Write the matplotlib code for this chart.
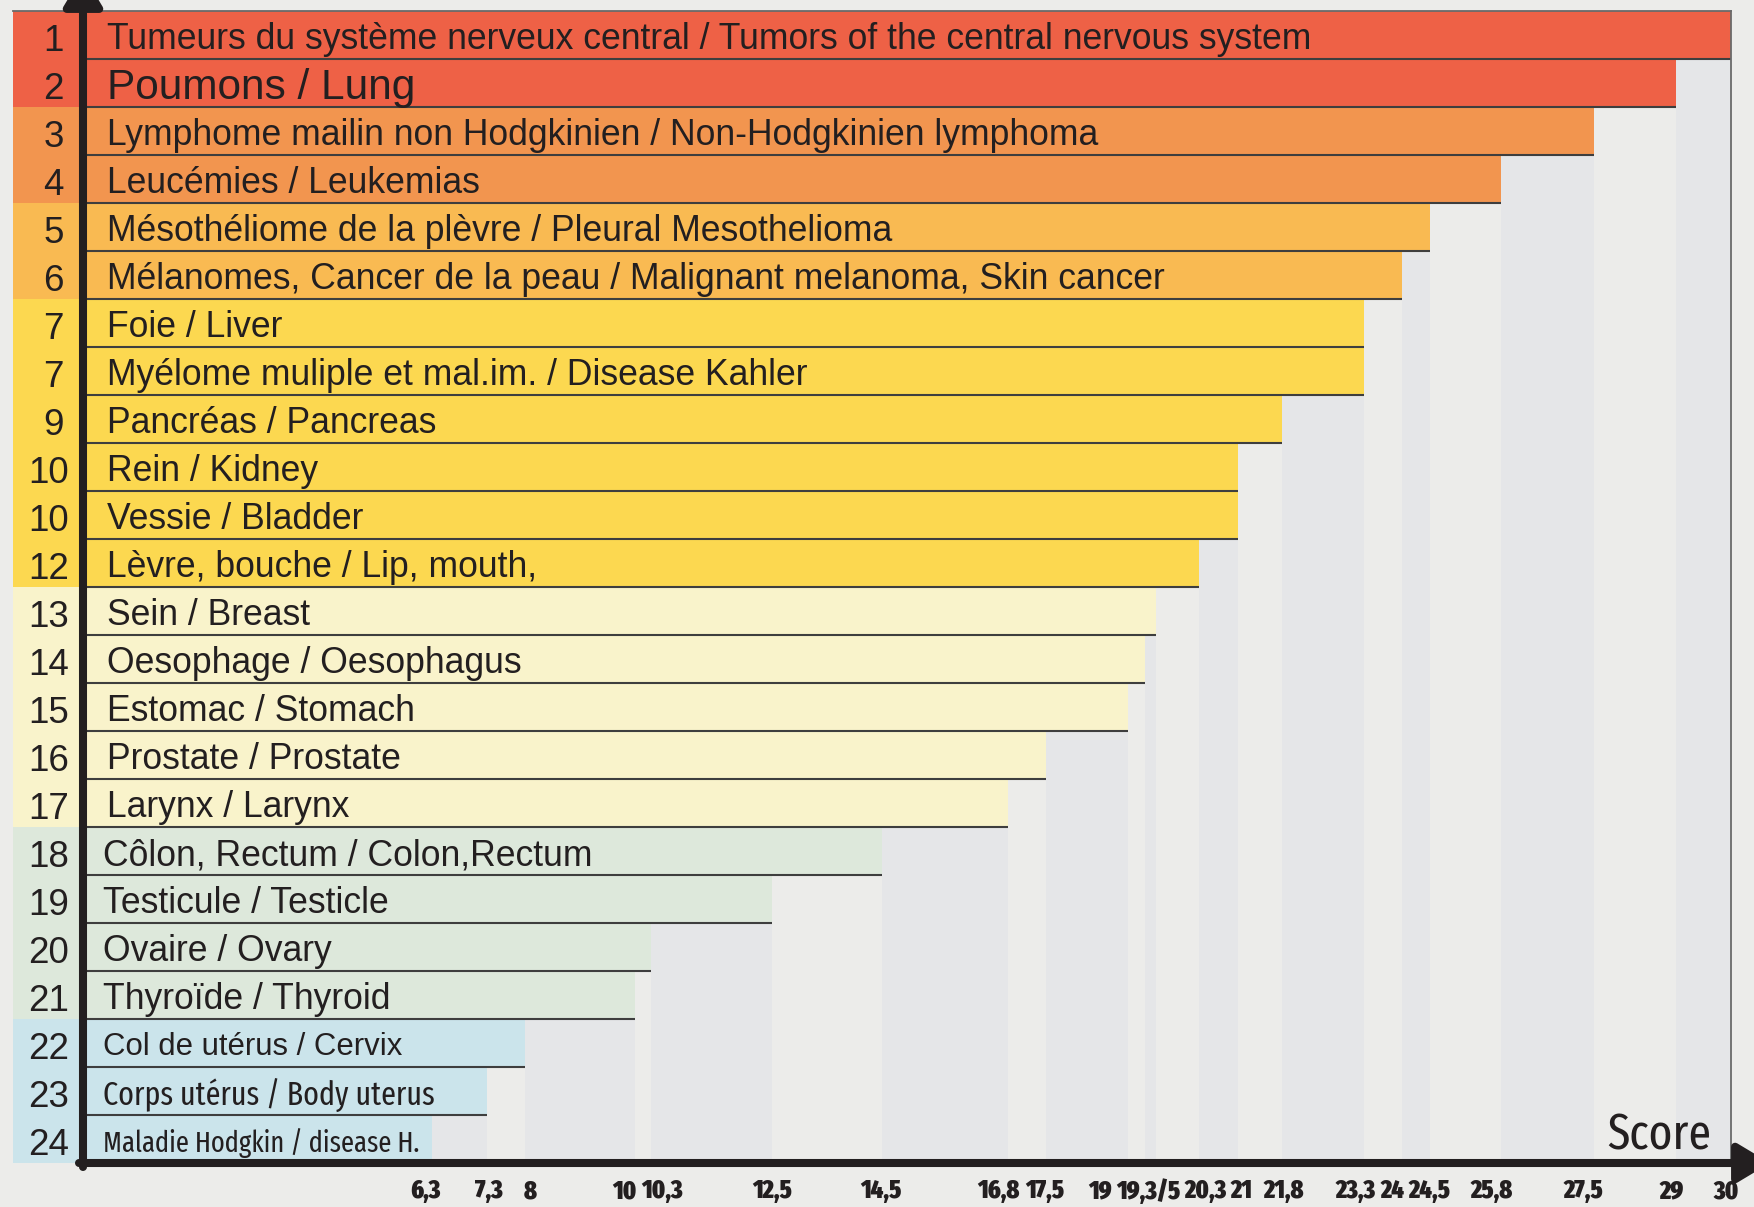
import os
import matplotlib
matplotlib.use("Agg")
import matplotlib.pyplot as plt
from matplotlib import font_manager as fm
from matplotlib.textpath import TextToPath
import matplotlib.transforms as mtransforms
import numpy as np

# ---------------- data ----------------
ranks = [1, 2, 3, 4, 5, 6, 7, 7, 9, 10, 10, 12, 13, 14, 15, 16, 17, 18, 19, 20, 21, 22, 23, 24]
labels = [
    "Tumeurs du système nerveux central / Tumors of the central nervous system",
    "Poumons / Lung",
    "Lymphome mailin non Hodgkinien / Non-Hodgkinien lymphoma",
    "Leucémies / Leukemias",
    "Mésothéliome de la plèvre / Pleural Mesothelioma",
    "Mélanomes, Cancer de la peau / Malignant melanoma, Skin cancer",
    "Foie / Liver",
    "Myélome muliple et mal.im. / Disease Kahler",
    "Pancréas / Pancreas",
    "Rein / Kidney",
    "Vessie / Bladder",
    "Lèvre, bouche / Lip, mouth,",
    "Sein / Breast",
    "Oesophage / Oesophagus",
    "Estomac / Stomach",
    "Prostate / Prostate",
    "Larynx / Larynx",
    "Côlon, Rectum / Colon,Rectum",
    "Testicule / Testicle",
    "Ovaire / Ovary",
    "Thyroïde / Thyroid",
    "Col de utérus / Cervix",
    "Corps utérus / Body uterus",
    "Maladie Hodgkin / disease H.",
]
scores = [30, 29, 27.5, 25.8, 24.5, 24, 23.3, 23.3, 21.8, 21, 21, 20.3,
          19.5, 19.3, 19, 17.5, 16.8, 14.5, 12.5, 10.3, 10, 8, 7.3, 6.3]
groups = [0, 0, 1, 1, 2, 2, 3, 3, 3, 3, 3, 3, 4, 4, 4, 4, 4, 5, 5, 5, 5, 6, 6, 6]
tick_values = [6.3, 7.3, 8, 10, 10.3, 12.5, 14.5, 16.8, 17.5, 19, 19.4, 20.3, 21,
               21.8, 23.3, 24, 24.5, 25.8, 27.5, 29, 30]
tick_labels = ["6,3", "7,3", "8", "10", "10,3", "12,5", "14,5", "16,8", "17,5", "19",
               "19,3/5", "20,3", "21", "21,8", "23,3", "24", "24,5", "25,8", "27,5",
               "29", "30"]
axis_title = "Score"

# ---------------- style ----------------
group_colors = ["#EE6146", "#F2954F", "#F9BA52", "#FCD850", "#F9F3CB", "#DDE8DB", "#CBE4EB"]
band_colors = ["#E5E6E8", "#ECECEA"]
bg = "#ECECEA"
ink = "#231F20"
DPI = 100

names = {f.name for f in fm.fontManager.ttflist}
REG = "Liberation Sans" if "Liberation Sans" in names else "DejaVu Sans"


def cond_rank(f):
    s = (os.path.basename(f.fname) + " " + f.name).lower().replace(" ", "")
    if "italic" in s or "oblique" in s:
        return None
    if any(k in s for k in ("ultracondensed", "extracondensed", "compressed")):
        return 3
    if "semicondensed" in s:
        return 1
    if "condensed" in s or "narrow" in s:
        return 2
    return None


def is_bold(f):
    s = os.path.basename(f.fname).lower()
    return ("bold" in s or "black" in s or "heavy" in s) and "semibold" not in s


def is_regular(f):
    s = os.path.basename(f.fname).lower()
    return not any(k in s for k in ("bold", "black", "heavy", "light", "thin",
                                    "medium", "semi", "extrabold"))


best_b, best_r = (0, None), (0, None)
for f in fm.fontManager.ttflist:
    r = cond_rank(f)
    if r is None:
        continue
    if is_bold(f) and r > best_b[0]:
        best_b = (r, f.fname)
    if is_regular(f) and r > best_r[0]:
        best_r = (r, f.fname)

COND_B = fm.FontProperties(fname=best_b[1]) if best_b[1] else \
    fm.FontProperties(family=REG, weight="bold")
COND_R = fm.FontProperties(fname=best_r[1]) if best_r[1] else \
    fm.FontProperties(family=REG)

_t2p = TextToPath()


def width_px(s, prop):
    w, h, d = _t2p.get_text_width_height_descent(s, prop, ismath=False)
    return w * DPI / 72.0


def fitted(base, s, target_px, max_size=60):
    p = base.copy()
    p.set_size(20)
    size = 20 * target_px / width_px(s, p)
    p.set_size(min(size, max_size))
    return p


def reg(size):
    return fm.FontProperties(family=REG, size=size)


W, H = 1754, 1207
fig = plt.figure(figsize=(W / DPI, H / DPI), dpi=DPI, facecolor=bg)

left_px, right_px = 13, 1731
top_px, bottom_px = 11, 1163
x0_px = 87
ax = fig.add_axes([left_px / W, 1 - bottom_px / H,
                   (right_px - left_px) / W, (bottom_px - top_px) / H])
xmax = 30
unit = (right_px - x0_px) / xmax
xmin = -(x0_px - left_px) / unit
n = len(scores)
row_px = (bottom_px - top_px) / n
ax.set_xlim(xmin, xmax)
ax.set_ylim(n, 0)
ax.set_facecolor(bg)

rows = np.arange(n)
colors = [group_colors[g] for g in groups]

# background bands between successive score values
u = sorted(set(scores), reverse=True)
for k in range(len(u) - 1):
    ax.axvspan(u[k + 1], u[k], color=band_colors[k % 2], lw=0, zorder=0)

# rank column
rank_right = (79 - x0_px) / unit
ax.barh(rows + 0.5, [rank_right - xmin] * n, left=xmin, height=1.0,
        color=colors, lw=0, zorder=1, clip_on=False)
for i, r in enumerate(ranks):
    xr = 69 if r >= 10 else 64
    ax.text((xr - x0_px) / unit, i + 0.55, str(r), ha="right", va="center_baseline",
            fontproperties=reg(26.5), color=ink, zorder=5)

# bars
ax.barh(rows + 0.5, scores, left=0, height=1.0, color=colors, lw=0, zorder=2)
ax.hlines(rows + 1, 0, scores, colors="#3E3E3E", lw=1.5, zorder=3)

# bar labels
for i, lab in enumerate(labels):
    if i == 1:
        prop = reg(30.5)
    elif i == 21:
        prop = reg(22.4)
    elif i == 22:
        prop = fitted(COND_R, lab, 331, 30)
    elif i == 23:
        prop = fitted(COND_R, lab, 316, 28)
    else:
        prop = reg(25.6)
    dx = (107 - x0_px) / unit
    if i >= 17:
        dx = (103 - x0_px) / unit
    ax.text(dx, i + 0.52, lab, ha="left", va="center_baseline",
            fontproperties=prop, color=ink, zorder=5)

# frame
for s in ["left", "bottom"]:
    ax.spines[s].set_visible(False)
for s in ["top", "right"]:
    ax.spines[s].set_color("#6A6A6A")
    ax.spines[s].set_linewidth(1.3)
    ax.spines[s].set_zorder(4)
ax.spines["top"].set_bounds(xmin, xmax)

# ticks
ax.set_yticks([])
ax.set_xticks(tick_values)
ax.set_xticklabels(tick_labels, color=ink)
tprop = fitted(COND_B, "19,3/5", 46, 26)
tprop.set_size(tprop.get_size_in_points() * 1.4)
tsize = tprop.get_size_in_points()
asc_px = 0.74 * tsize * DPI / 72.0
pad_pt = max(2.0, (1190 - asc_px / 2 - 1163 - 1) * 72.0 / DPI)
for lab in ax.get_xticklabels():
    lab.set_fontproperties(tprop)
ax.tick_params(axis="x", length=0, pad=pad_pt)

# label placement: hand-set offsets of the reference, then resolve overlaps
pref = {"6,3": -7, "7,3": 2, "8": 5, "10": -9, "10,3": 9, "12,5": 0, "14,5": -1,
        "16,8": -9, "17,5": -1, "19": -13, "19,3/5": 0, "20,3": -2, "21": -6,
        "21,8": 2, "23,3": -8, "24": -7, "24,5": -2, "25,8": -9, "27,5": -11,
        "29": -5, "30": -5}
base_px = [x0_px + v * unit for v in tick_values]
cent = [b + pref.get(t, 0) for b, t in zip(base_px, tick_labels)]
wid = [width_px(t, tprop) for t in tick_labels]
gap_min = 4
for _ in range(200):
    moved = False
    for j in range(len(cent) - 1):
        gap = (cent[j + 1] - wid[j + 1] / 2) - (cent[j] + wid[j] / 2)
        if gap < gap_min:
            d = (gap_min - gap) / 2
            cent[j] -= d
            cent[j + 1] += d
            moved = True
    if not moved:
        break
for lab, c, b in zip(ax.get_xticklabels(), cent, base_px):
    lab.set_transform(lab.get_transform() +
                      mtransforms.ScaledTranslation((c - b) / DPI, 0, fig.dpi_scale_trans))

# axis title
ax.text((1711 - x0_px) / unit, (1150 - top_px) / row_px, axis_title,
        ha="right", va="baseline", fontproperties=fitted(COND_R, axis_title, 104, 46),
        color=ink, zorder=5)

# axis arrows (figure pixels)
arrow = dict(arrowstyle="-|>,head_length=0.75,head_width=0.45", lw=5.8, color=ink,
             mutation_scale=26, shrinkA=0, shrinkB=0)
ax.annotate("", xy=(1770, H - 1163), xytext=(79, H - 1163), xycoords="figure pixels",
            textcoords="figure pixels", arrowprops=arrow, annotation_clip=False, zorder=10)
ax.annotate("", xy=(83, H + 26), xytext=(83, H - 1167), xycoords="figure pixels",
            textcoords="figure pixels", arrowprops=arrow, annotation_clip=False, zorder=10)

fig.savefig("out.png", dpi=DPI, facecolor=bg)
